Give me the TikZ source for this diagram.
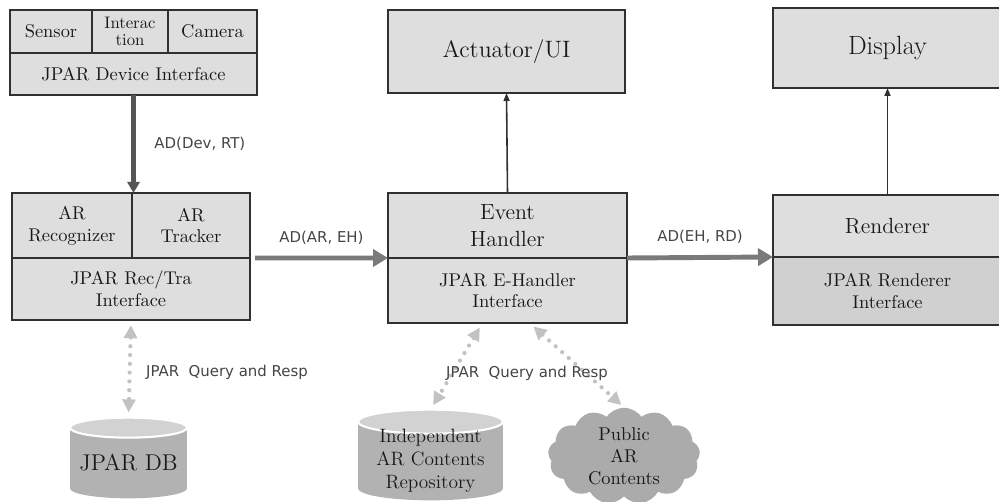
\documentclass[tikz,border=0pt]{standalone}
\usepackage{fontspec}
\newfontfamily\tagfont{DejaVu Sans}
\usetikzlibrary{positioning, arrows.meta, calc, shapes.symbols, backgrounds}

\definecolor{boxgray}{HTML}{DEDEDE}
\definecolor{boxdark}{HTML}{D0D0D0}
\definecolor{edgegray}{HTML}{303030}
\definecolor{flowgray}{HTML}{7A7A7A}
\definecolor{feedgray}{HTML}{555555}
\definecolor{dotgray}{HTML}{C2C2C2}
\definecolor{cylgray}{HTML}{B2B2B2}
\definecolor{cyltopgray}{HTML}{D2D2D2}
\definecolor{cloudgray}{HTML}{ABABAB}
\definecolor{tagcolor}{HTML}{444444}

\tikzset{
    sz/.style 2 args={minimum width=#1*0.02cm, minimum height=#2*0.02cm},
    cell/.style={draw=edgegray, line width=1.6pt, fill=boxgray, inner sep=0pt,
        outer sep=0pt, align=center, text=black!90, font=\fontsize{10.5}{12.5}\selectfont},
    feed/.style={line width=2.4pt, draw=feedgray, -{Triangle[length=0.22cm, width=0.24cm]}},
    flow/.style={line width=2.8pt, draw=flowgray, -{Triangle[length=0.3cm, width=0.34cm]}},
    ctrl/.style={line width=0.9pt, draw=edgegray, -{Triangle[length=0.16cm, width=0.12cm]}},
    query/.style={line width=2.4pt, draw=dotgray, line cap=round, dash pattern=on 0pt off 5pt,
        {Triangle[length=0.26cm, width=0.26cm]}-{Triangle[length=0.26cm, width=0.26cm]}},
    tag/.style={font=\tagfont\fontsize{8.5}{10}\selectfont, text=tagcolor},
    store/.style={inner sep=0pt, align=center, text=black!90, font=\fontsize{11}{13}\selectfont}
}

\begin{document}
\begin{tikzpicture}[x=0.02cm, y=-0.02cm]
    \useasboundingbox (0,0) rectangle (999,502);

    %Device side
    \node[cell, sz={82}{43}, font=\fontsize{10.5}{11}\selectfont] (sensor) at (51,31.5) {Sensor};
    \node[cell, sz={76}{43}, font=\fontsize{9.5}{10}\selectfont] (interac) at (130,31.5) {Interac\\tion};
    \node[cell, sz={89}{43}, font=\fontsize{10.5}{11}\selectfont] (camera) at (212.5,31.5) {Camera};
    \node[cell, sz={247}{42}, font=\fontsize{10.5}{11}\selectfont] (devif) at (133.5,74) {JPAR Device Interface};

    %Recognizer and tracker
    \node[cell, sz={120}{65}] (recog) at (72,225.5) {AR\\Recognizer};
    \node[cell, sz={118}{65}] (tracker) at (191,225.5) {AR\\Tracker};
    \node[cell, sz={238}{62}] (rtif) at (131,289) {JPAR Rec/Tra\\Interface};

    %Event handler and actuator
    \node[cell, sz={239}{65}, font=\fontsize{12.5}{15}\selectfont] (evh) at (507.5,225.5) {Event\\Handler};
    \node[cell, sz={239}{65}] (ehif) at (507.5,290.5) {JPAR E-Handler\\Interface};
    \node[cell, sz={237}{83}, font=\fontsize{13.5}{15}\selectfont] (actui) at (506.5,51.5) {Actuator/UI};

    %Renderer and display
    \node[cell, sz={229}{62}, font=\fontsize{12.5}{15}\selectfont] (rend) at (887.5,226) {Renderer};
    \node[cell, sz={229}{68}, fill=boxdark] (rendif) at (887.5,291) {JPAR Renderer\\Interface};
    \node[cell, sz={229}{80}, font=\fontsize{15}{17}\selectfont] (disp) at (887.5,48) {Display};

    %Stores
    \node[store, sz={117}{70}, font=\fontsize{13}{15}\selectfont] (db) at (128.5,463) {JPAR DB};
    \node[store, sz={145}{78}] (repo) at (430.5,461) {Independent\\AR Contents\\Repository};
    \node[cloud, cloud puffs=13, cloud puff arc=110, aspect=1.8, fill=cloudgray, inner sep=0pt,
        sz={152}{88}, align=center, text=black!90, font=\fontsize{10.5}{12.5}\selectfont]
        (cloud) at (624,456) {Public\\AR\\Contents};

    \begin{scope}[on background layer]
        \foreach \n/\ry/\rx in {db/10/58.5, repo/12/72.5}{
            \fill[cylgray] (\n.north west) rectangle ($(\n.south east)-(0,\ry)$);
            \fill[cylgray] ($(\n.south)-(0,\ry)$) ellipse [x radius=\rx, y radius=\ry];
            \filldraw[fill=cyltopgray, draw=white, line width=1.2pt] (\n.north) ellipse [x radius=\rx, y radius=\ry];
        }
    \end{scope}

    %Data flow
    \draw[feed] (devif.south) -- (devif.south |- recog.north)
        node[tag, midway, right=0.26cm] (adrt) {AD(Dev, RT)};
    \draw[flow] ($(rtif.north east)+(5,0)$) -- (evh.south west)
        node[tag, midway, above=3pt] (adeh) {AD(AR, EH)};
    \draw[flow] (ehif.north east) -- (rend.south west)
        node[tag, midway, above=3pt] (adrd) {AD(EH, RD)};

    \draw[ctrl] (evh.north) -- (actui.south);
    \draw[ctrl] (rend.north) -- (disp.south);

    %Queries
    \draw[query, shorten <=3pt, shorten >=3pt] (rtif.south) -- ($(db.north)-(0,10)$);
    \draw[query, shorten <=3pt, shorten >=3pt] ($(ehif.south)+(-25,0)$) -- ($(repo.north)-(0,12)$);
    \draw[query, shorten <=3pt, shorten >=2pt] ($(ehif.south)+(22,0)$) -- (cloud.north);
    \node[tag] (qdb) at (227,372) {JPAR\ \ Query and Resp};
    \node[tag] (qeh) at (527,373) {JPAR\ \ Query and Resp};

\end{tikzpicture}
\end{document}
